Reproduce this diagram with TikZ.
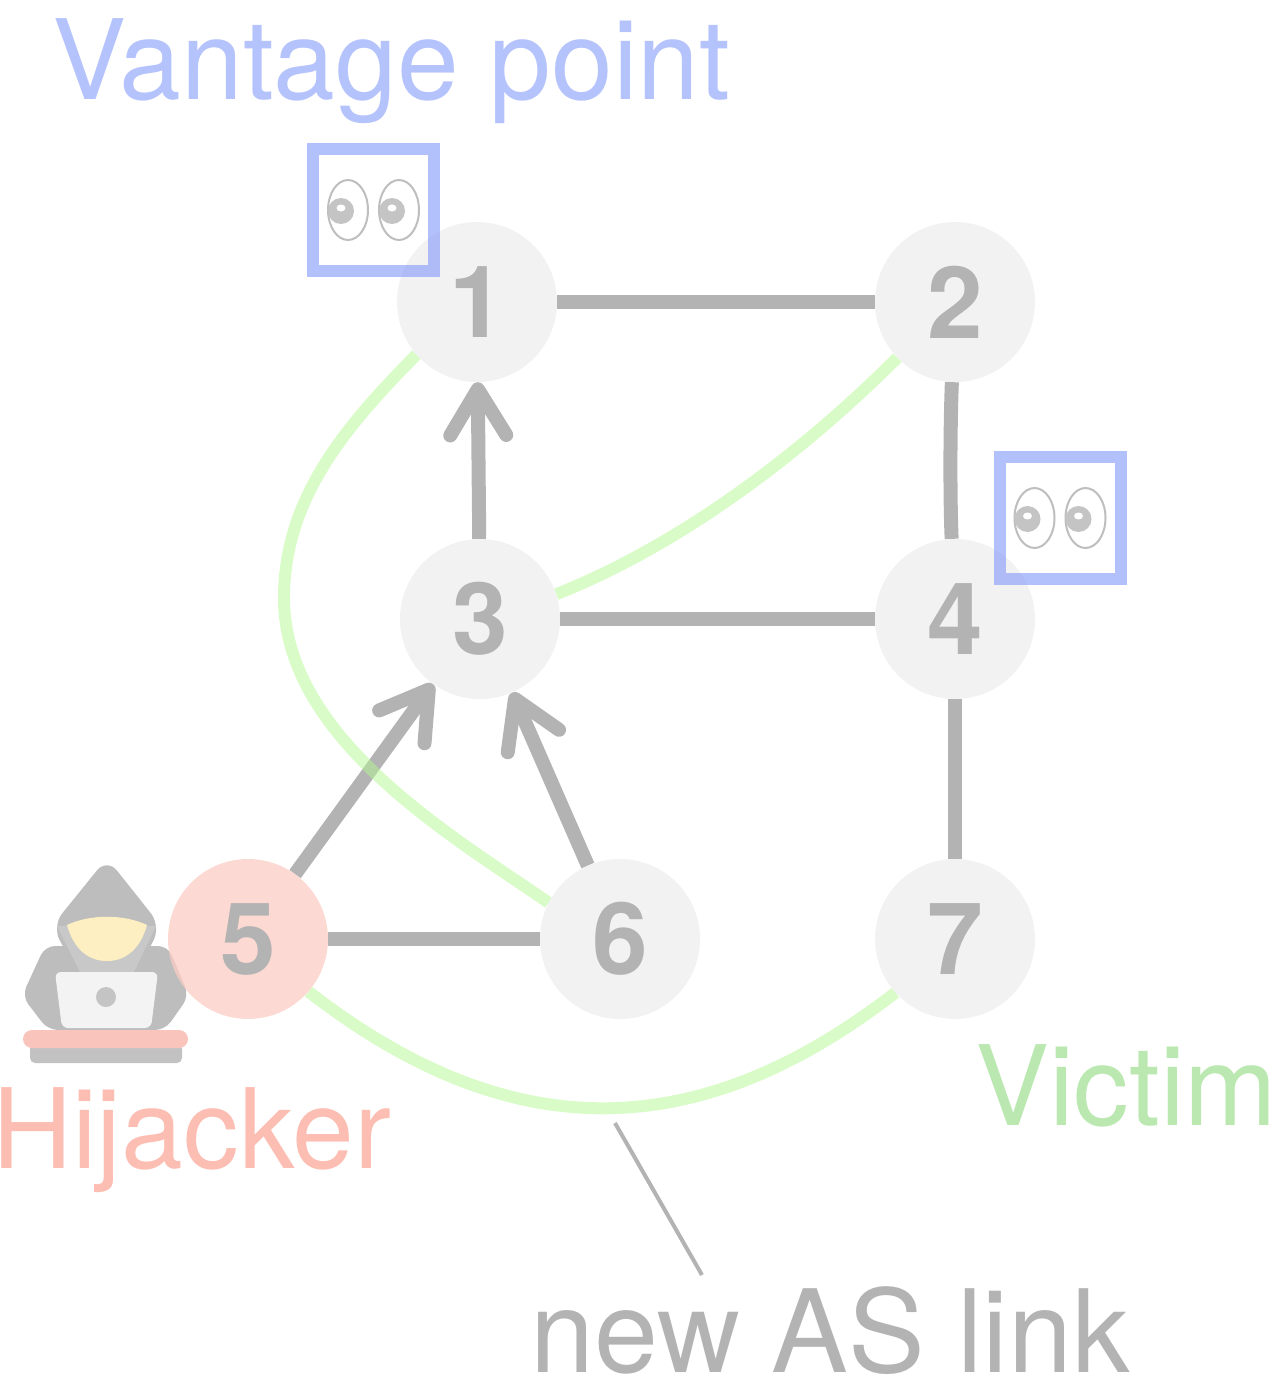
\documentclass[tikz,border=0pt]{standalone}
\usepackage{fontspec}
\setmainfont{TeX Gyre Heros}
\usetikzlibrary{arrows.meta}

\definecolor{edgegray}{RGB}{179,179,179}
\definecolor{nodefill}{RGB}{242,242,242}
\definecolor{hijackfill}{RGB}{252,204,196}
\definecolor{routegreen}{RGB}{180,248,146}
\definecolor{vpblue}{RGB}{146,165,250}
\definecolor{vptext}{RGB}{181,195,252}
\definecolor{hijacktext}{RGB}{252,190,178}
\definecolor{victimtext}{RGB}{187,232,177}
\definecolor{hooddark}{RGB}{189,189,189}
\definecolor{hoodlight}{RGB}{200,200,200}
\definecolor{skin}{RGB}{253,239,194}
\definecolor{laptop}{RGB}{243,243,243}
\definecolor{desk}{RGB}{249,196,187}
\definecolor{eyeline}{RGB}{190,190,190}
\definecolor{pupil}{RGB}{196,196,196}

\pgfdeclarelayer{bg}
\pgfsetlayers{bg,main}

\tikzset{
  asnode/.style={circle, fill=nodefill, minimum size=160pt, inner sep=0pt,
    text=edgegray, font=\fontsize{100}{100}\selectfont\bfseries},
  link/.style={draw=edgegray, line width=14pt},
  arr/.style={link, -{Straight Barb[length=46pt,width=56pt,round]}},
  route/.style={draw=routegreen, draw opacity=0.5, line width=12pt},
  vpbox/.style={draw=vpblue, draw opacity=0.7, line width=12pt,
    minimum width=121pt, minimum height=122pt, inner sep=0pt},
  caption/.style={font=\fontsize{111}{111}\selectfont, inner sep=0pt, anchor=base west},
  eyes/.pic={
    \foreach \dx in {-25.5,25.5}{
      \draw[eyeline, line width=2pt, fill=white] (\dx,0) ellipse [x radius=20, y radius=30];
      \fill[pupil] (\dx-7,1) circle [radius=13];
      \fill[white] (\dx-7,-2) ellipse [x radius=4.5, y radius=3.5];
    }
  }
}

\begin{document}
\begin{tikzpicture}[x=1pt,y=-1pt]
\useasboundingbox (0,0) rectangle (1281,1383);

% hooded hijacker at the laptop
\fill[edgegray!80!white, rounded corners=5] (30,1044) rectangle (182,1063);
\fill[hooddark, rounded corners=10] (45,946) -- (168,946) -- (189,996) -- (165,1030) -- (48,1030) -- (22,996) -- cycle;
\fill[hooddark, rounded corners=16] (107,858) -- (161,926) -- (136,974) -- (78,974) -- (52,926) -- cycle;
\fill[hoodlight] (57,926) -- (156,926) -- (134,972) -- (80,972) -- cycle;
\fill[skin] (67,925) .. controls (90,914) and (124,914) .. (147,925)
  .. controls (140,950) and (125,961) .. (107,961)
  .. controls (89,961) and (74,950) .. (67,925) -- cycle;
\fill[laptop, rounded corners=6] (55,972) -- (158,972) -- (151,1028) -- (62,1028) -- cycle;
\fill[pupil] (106,997) circle [radius=10];
\fill[desk, rounded corners=9] (23,1030) rectangle (188,1048);

% autonomous systems
\node[asnode] (n1) at (477,302) {1};
\node[asnode] (n2) at (955,302) {2};
\node[asnode] (n3) at (480,619) {3};
\node[asnode] (n4) at (955,619) {4};
\node[asnode, fill=hijackfill, fill opacity=0.75, text opacity=1] (n5) at (248,939) {5};
\node[asnode] (n6) at (620,939) {6};
\node[asnode] (n7) at (955,939) {7};

% links and routes, kept beneath the nodes
\begin{pgfonlayer}{bg}
\draw[link] (n1) -- (n2);
\draw[link] (n2) .. controls (950,430) and (950,500) .. (n4);
\draw[link] (n3) -- (n4);
\draw[link] (n4) -- (n7);
\draw[link] (n5) -- (n6);
\draw[arr] (n3) -- (n1);
\draw[arr] (n5) -- (n3);
\draw[arr] (n6) -- (n3);
\draw[route] (n1.221) .. controls (346,426) and (284,498) .. (284,598)
  .. controls (284,738) and (452,836) .. (n6.153);
\draw[route] (n3.18) .. controls (680,545) and (800,455) .. (n2.224);
\draw[route] (n5.319) .. controls (509,1147) and (696,1147) .. (n7.222);
\end{pgfonlayer}

% vantage points
\node[vpbox] (vp1) at (373.5,210) {};
\node[vpbox] (vp2) at (1060,518) {};
\pic at (vp1) {eyes};
\pic at (vp2) {eyes};

% captions
\node[caption, text=vptext] (tvp) at (52,100) {Vantage point};
\node[caption, text=hijacktext] (thj) at (-8,1168) {Hijacker};
\node[caption, text=victimtext] (tvc) at (975,1125) {Victim};
\node[caption, text=edgegray, font=\fontsize{115}{115}\selectfont] (tnew) at (530,1372) {new AS link};
\coordinate (leadA) at (615,1123);
\coordinate (leadB) at (702,1275);
\draw[edgegray, line width=4pt] (leadA) -- (leadB);
\end{tikzpicture}
\end{document}
